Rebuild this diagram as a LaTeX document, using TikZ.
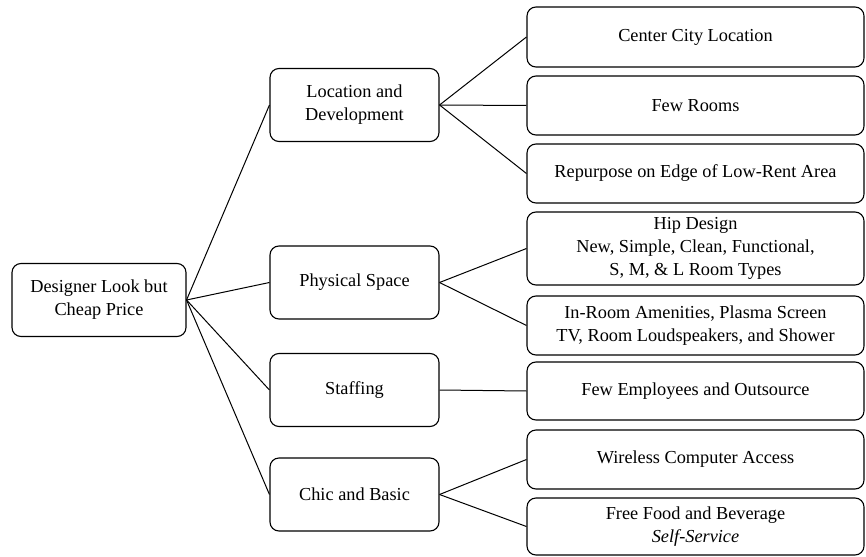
\documentclass[tikz,border=0pt]{standalone}
\usepackage{fontspec}
\setmainfont{Liberation Serif}
\begin{document}
\begin{tikzpicture}[x=1pt,y=-1pt,
  box/.style={draw=black, line width=1.1pt, rounded corners=9pt, inner sep=0pt, align=center,
    font=\fontsize{18.3}{23}\selectfont},
  rootbox/.style={box, minimum width=174pt, minimum height=73pt},
  midbox/.style={box, minimum width=169pt, minimum height=73pt},
  leafbox/.style={box, minimum width=337pt},
  link/.style={draw=black, line width=1pt}]
\useasboundingbox (0,0) rectangle (866,556);
\node[rootbox] (root) at (99,300) {Designer Look but\\Cheap Price};
\node[midbox] (loc) at (354.5,105) {Location and\\Development};
\node[midbox] (phys) at (354.5,282.5) {Physical Space};
\node[midbox] (staff) at (354.5,390) {Staffing};
\node[midbox] (chic) at (354.5,494.5) {Chic and Basic};
\node[leafbox, minimum height=60pt] (l1) at (695.5,37) {Center City Location};
\node[leafbox, minimum height=59pt] (l2) at (695.5,105.5) {Few Rooms};
\node[leafbox, minimum height=59pt] (l3) at (695.5,173.5) {Repurpose on Edge of Low-Rent Area};
\node[leafbox, minimum height=73pt] (p1) at (695.5,248.5) {Hip Design\\New, Simple, Clean, Functional,\\S, M, \& L Room Types};
\node[leafbox, minimum height=59pt] (p2) at (695.5,325.5) {In-Room Amenities, Plasma Screen\\TV, Room Loudspeakers, and Shower};
\node[leafbox, minimum height=58pt] (s1) at (695.5,391) {Few Employees and Outsource};
\node[leafbox, minimum height=59pt] (c1) at (695.5,459.5) {Wireless Computer Access};
\node[leafbox, minimum height=57pt] (c2) at (695.5,526.5) {Free Food and Beverage\\\textit{Self-Service}};
\foreach \m in {loc,phys,staff,chic} \draw[link] (root.east) -- (\m.west);
\foreach \l in {l1,l2,l3} \draw[link] (loc.east) -- (\l.west);
\foreach \l in {p1,p2} \draw[link] (phys.east) -- (\l.west);
\draw[link] (staff.east) -- (s1.west);
\foreach \l in {c1,c2} \draw[link] (chic.east) -- (\l.west);
\end{tikzpicture}
\end{document}
